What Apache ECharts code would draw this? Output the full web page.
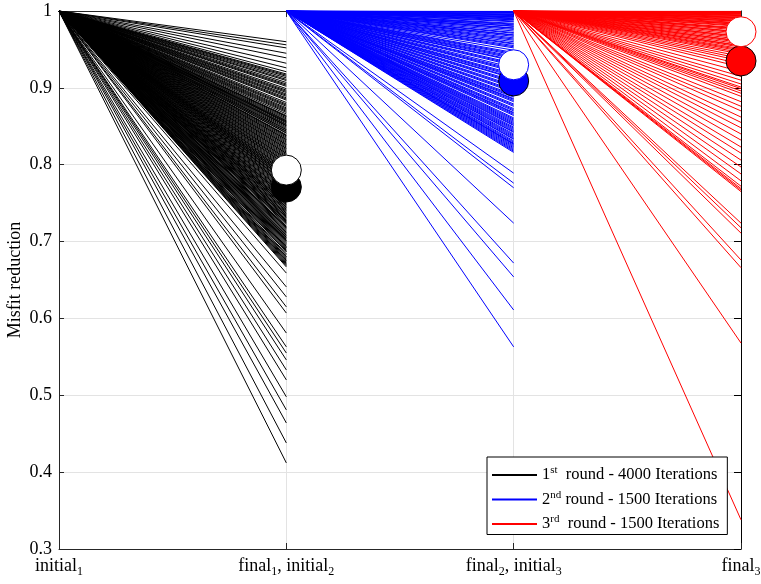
<!DOCTYPE html>
<html><head><meta charset="utf-8">
<script src="https://cdn.jsdelivr.net/npm/echarts@6/dist/echarts.min.js"></script>
<style>html,body{margin:0;padding:0;background:#fff}#c{width:761px;height:584px}</style>
</head><body><div id="c"></div>
<script>
// x tick labels ("_n" = subscript)
const xTickLabels = ['initial_1', 'final_1, initial_2', 'final_2, initial_3', 'final_3'];
const yAxisName = 'Misfit reduction';
const seriesNames = ['1st round - 4000 Iterations', '2nd round - 1500 Iterations', '3rd round - 1500 Iterations'];
const seriesColors = ['#000000', '#0000ff', '#ff0000'];

// final misfit reduction of each run (all start from 1 at the round's initial point)
const final1 = [0.960, 0.956, 0.952, 0.945, 0.939, 0.932, 0.926, 0.921,
  0.918, 0.915, 0.913, 0.911, 0.907, 0.905, 0.902, 0.899, 0.897, 0.894, 0.892, 0.889, 0.887, 0.884,
  0.881, 0.879, 0.876, 0.874, 0.871, 0.868, 0.866, 0.864, 0.861, 0.858, 0.856, 0.853, 0.851, 0.849,
  0.846, 0.843, 0.841, 0.838, 0.836, 0.833, 0.831, 0.828, 0.826, 0.823, 0.821, 0.818, 0.815, 0.813,
  0.810, 0.808, 0.805, 0.803, 0.800, 0.798, 0.795, 0.793, 0.790, 0.788, 0.785, 0.783, 0.780, 0.778,
  0.775, 0.772, 0.770, 0.768, 0.765, 0.763, 0.760, 0.757, 0.755, 0.752, 0.750, 0.747, 0.745, 0.742,
  0.740, 0.737, 0.735, 0.732, 0.730, 0.727, 0.725, 0.722, 0.720, 0.717, 0.714, 0.712, 0.709, 0.706,
  0.703, 0.700, 0.697, 0.694, 0.690, 0.687, 0.684, 0.680, 0.677, 0.673, 0.670, 0.667,
  0.863, 0.857, 0.852, 0.844, 0.839, 0.786, 0.781, 0.776, 0.758, 0.748, 0.743, 0.733, 0.728, 0.718,
  0.708, 0.701, 0.692,
  0.9165, 0.9095, 0.9035, 0.8955, 0.8905, 0.8855, 0.8775, 0.8725, 0.8695, 0.8595, 0.8545, 0.8475,
  0.8415, 0.8345, 0.8295, 0.8245, 0.8195, 0.8165, 0.8115, 0.8065, 0.8015, 0.7965, 0.7915, 0.7875,
  0.7825, 0.7795, 0.7735, 0.7695, 0.7665, 0.7615, 0.7555, 0.7535, 0.7485, 0.7445, 0.7385, 0.7365,
  0.7315, 0.7265, 0.7235, 0.7185, 0.7155, 0.7105, 0.7075, 0.7045, 0.6985, 0.6955, 0.6915, 0.6885,
  0.6825, 0.6785, 0.6745, 0.6715,
  0.8625, 0.8555, 0.8505, 0.8455, 0.8375, 0.8325, 0.8265, 0.8215, 0.8145, 0.8085, 0.8035, 0.7995,
  0.7935, 0.7895, 0.7845, 0.7765, 0.7715, 0.7635, 0.7585, 0.7505, 0.7455, 0.7405, 0.7345, 0.7285,
  0.7245, 0.7195, 0.7125, 0.7055, 0.7015, 0.6935, 0.6865, 0.6805, 0.6755, 0.6685,
  0.659, 0.641, 0.628, 0.615, 0.607, 0.581, 0.563, 0.555, 0.546, 0.533, 0.520, 0.498, 0.481, 0.464,
  0.438, 0.412];
const final2 = [0.9995, 0.999, 0.998, 0.997, 0.996, 0.995, 0.994, 0.993, 0.992, 0.990, 0.989, 0.987,
  0.986, 0.984, 0.982, 0.980, 0.978, 0.976, 0.974, 0.972, 0.969, 0.967, 0.965, 0.962, 0.960, 0.957,
  0.955, 0.952, 0.949, 0.946, 0.943, 0.941, 0.938, 0.935, 0.932, 0.929, 0.926, 0.924, 0.921, 0.918,
  0.915, 0.912, 0.909, 0.906, 0.903, 0.900, 0.897, 0.894, 0.891, 0.888, 0.885, 0.882, 0.879, 0.876,
  0.873, 0.870, 0.867, 0.864, 0.861, 0.858, 0.855, 0.852, 0.849, 0.846, 0.843, 0.840, 0.837, 0.834,
  0.831, 0.828, 0.825, 0.822, 0.819, 0.816,
  0.991, 0.983, 0.971, 0.958, 0.936, 0.913, 0.886, 0.868, 0.851, 0.842, 0.833, 0.827,
  0.9985, 0.9955, 0.9925, 0.9885, 0.9805, 0.9775, 0.9685, 0.9635, 0.9535, 0.9445, 0.9395, 0.9305,
  0.9225, 0.9165, 0.9075, 0.9015, 0.8955, 0.8895, 0.8835, 0.8775, 0.8715, 0.8655, 0.8595, 0.8565,
  0.8535, 0.8475, 0.8445, 0.8385, 0.8355, 0.8295, 0.8265, 0.8235, 0.8205, 0.8175,
  0.789, 0.776, 0.770, 0.724, 0.672, 0.654, 0.611, 0.563];
const final3 = [0.9995, 0.999, 0.9985, 0.998, 0.997, 0.996, 0.995, 0.994, 0.993, 0.992, 0.991, 0.990,
  0.989, 0.988, 0.987, 0.985, 0.984, 0.983, 0.981, 0.980, 0.978, 0.977, 0.975, 0.973, 0.971, 0.969,
  0.967, 0.965, 0.963, 0.961, 0.959, 0.957, 0.955, 0.953, 0.951, 0.948, 0.946, 0.944, 0.941, 0.938,
  0.935, 0.931, 0.927, 0.921, 0.915, 0.910, 0.905, 0.901, 0.899, 0.896, 0.893, 0.889, 0.882, 0.876,
  0.870, 0.862, 0.855, 0.848, 0.840, 0.832, 0.823, 0.815, 0.806, 0.797, 0.788, 0.779, 0.772, 0.769,
  0.767, 0.765, 0.724, 0.718, 0.711, 0.676, 0.666, 0.568, 0.338,
  0.9975, 0.9965, 0.9945, 0.9915, 0.9865, 0.9825, 0.9765, 0.9725, 0.9665, 0.9605, 0.9545, 0.9495];
// summary markers per round (filled and open circles)
const filledMarker = [0.771, 0.909, 0.935];
const openMarker = [0.793, 0.930, 0.973];

const finals = [final1, final2, final3];
const serif = 'Liberation Serif, Times New Roman, serif';

const series = [];
finals.forEach((arr, r) => {
  arr.forEach(v => {
    series.push({
      type: 'line', name: seriesNames[r], xAxisIndex: 0, yAxisIndex: 0,
      data: [[r, 1], [r + 1, v]], symbol: 'none', color: seriesColors[r],
      itemStyle: { color: seriesColors[r] },
      lineStyle: { color: seriesColors[r], width: 1, opacity: 1 }, silent: true, z: 2,
      emphasis: { disabled: true }
    });
  });
});
series.push({
  type: 'scatter', xAxisIndex: 0, yAxisIndex: 0, symbol: 'circle', symbolSize: 30, clip: false, silent: true, z: 5,
  itemStyle: { opacity: 1 },
  data: filledMarker.map((v, i) => ({ value: [i + 1, v], itemStyle: { color: seriesColors[i], borderColor: '#000', borderWidth: 1, opacity: 1 } }))
});
series.push({
  type: 'scatter', xAxisIndex: 0, yAxisIndex: 0, symbol: 'circle', symbolSize: 30, clip: false, silent: true, z: 6,
  itemStyle: { opacity: 1 },
  data: openMarker.map((v, i) => ({ value: [i + 1, v], itemStyle: { color: '#fff', borderColor: seriesColors[i], borderWidth: 1, opacity: 1 } }))
});

function xFmt(v) {
  const s = xTickLabels[Math.round(v)];
  if (s === undefined) return '';
  return s.split(/_(\d)/).map((p, i) => p === '' ? '' : (i % 2 ? '{b|' + p + '}' : '{a|' + p + '}')).join('');
}
function legFmt(name) {
  const m = name.match(/^(\d)(st|nd|rd)(.*)$/);
  return '{n|' + m[1] + '}{p|' + m[2] + '}{n|' + (m[2] === 'nd' ? ' ' : '  ') + m[3].trim() + '}';
}
const axisCol = '#262626';
const chart = echarts.init(document.getElementById('c'), null, { renderer: 'canvas' });
chart.setOption({
  animation: false,
  backgroundColor: '#fff',
  grid: { left: 59, right: 20, top: 11, bottom: 35, containLabel: false, outerBoundsMode: 'none' },
  legend: {
    orient: 'vertical', left: 487, top: 457, align: 'left',
    data: seriesNames.map((n, i) => ({
      name: n, icon: 'rect',
      itemStyle: { color: seriesColors[i], borderColor: seriesColors[i], borderWidth: 0, opacity: 1 }
    })),
    itemWidth: 45, itemHeight: 2, itemGap: 6,
    padding: [8, 8, 2, 5],
    backgroundColor: '#fff', borderColor: '#000', borderWidth: 1, borderRadius: 0,
    selectedMode: false,
    formatter: legFmt,
    textStyle: {
      fontFamily: serif, color: '#000', padding: [0, 0, 0, 0],
      rich: {
        n: { fontFamily: serif, fontSize: 16.5, lineHeight: 20, color: '#000' },
        p: { fontFamily: serif, fontSize: 11, lineHeight: 11, verticalAlign: 'top', color: '#000' }
      }
    },
    z: 10
  },
  xAxis: [{
    type: 'value', min: 0, max: 3, interval: 1, position: 'bottom',
    axisLine: { show: true, onZero: false, lineStyle: { color: axisCol, width: 1 } },
    axisTick: { show: true, inside: true, length: 6, lineStyle: { color: axisCol } },
    splitLine: { show: true, lineStyle: { color: '#e3e3e3', width: 1 } },
    axisLabel: {
      formatter: xFmt, margin: 5, showMinLabel: true, showMaxLabel: true,
      rich: {
        a: { fontFamily: serif, fontSize: 18, lineHeight: 24, color: '#000' },
        b: { fontFamily: serif, fontSize: 12, lineHeight: 12, verticalAlign: 'bottom', color: '#000' }
      }
    }
  }, {
    type: 'value', min: 0, max: 3, interval: 1, position: 'top',
    axisLine: { show: true, onZero: false, lineStyle: { color: axisCol, width: 1 } },
    axisTick: { show: true, inside: true, length: 6, lineStyle: { color: axisCol } },
    splitLine: { show: false }, axisLabel: { show: false }
  }],
  yAxis: [{
    type: 'value', min: 0.3, max: 1, interval: 0.1, position: 'left',
    name: yAxisName, nameLocation: 'middle', nameGap: 35, nameMoveOverlap: false,
    nameTextStyle: { fontFamily: serif, fontSize: 18, color: '#000' },
    axisLine: { show: true, onZero: false, lineStyle: { color: axisCol, width: 1 } },
    axisTick: { show: true, inside: true, length: 5, lineStyle: { color: axisCol } },
    splitLine: { show: true, lineStyle: { color: '#e3e3e3', width: 1 } },
    axisLabel: { fontFamily: serif, fontSize: 18, color: '#000', margin: 7, formatter: v => String(+v.toFixed(1)) }
  }, {
    type: 'value', min: 0.3, max: 1, interval: 0.1, position: 'right',
    axisLine: { show: true, onZero: false, lineStyle: { color: '#000', width: 1 } },
    axisTick: { show: true, inside: true, length: 7, lineStyle: { color: '#000' } },
    splitLine: { show: false }, axisLabel: { show: false }
  }],
  series: series
});
</script>
</body></html>
